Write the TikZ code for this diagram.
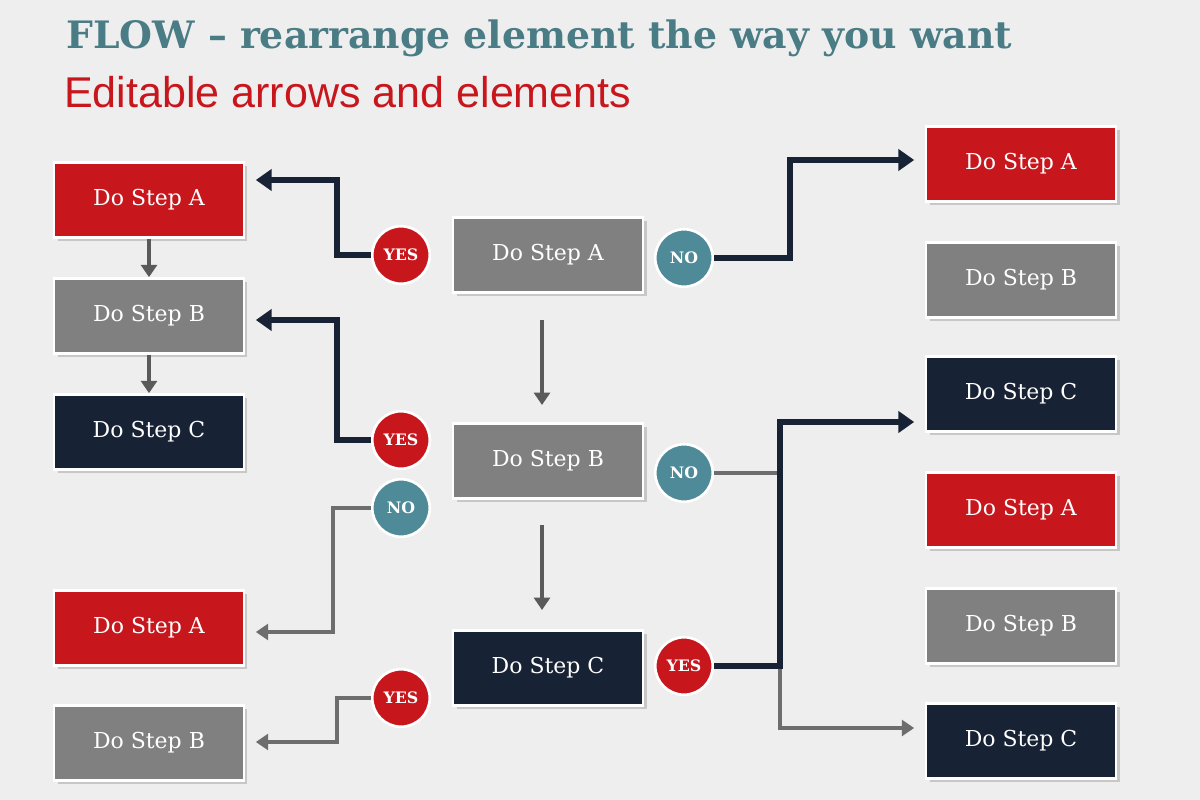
\documentclass[tikz,border=0pt]{standalone}
\usepackage{fontspec}
\setmainfont{DejaVu Serif}
\setsansfont{Liberation Sans}
\usetikzlibrary{positioning,arrows.meta,shadows}
\definecolor{stepred}{HTML}{C8161D}
\definecolor{stepgray}{HTML}{808080}
\definecolor{stepnavy}{HTML}{182235}
\definecolor{stepteal}{HTML}{4E8A97}
\definecolor{titleteal}{HTML}{4A7C85}
\definecolor{bgpaper}{HTML}{EEEEEE}
\tikzset{
	flow box/.style = {rectangle, draw=white, line width=1.5pt, minimum width=3.8cm, minimum height=1.5cm,
		text=white, font=\fontsize{12.5}{15}\selectfont, drop shadow={opacity=0.35,shadow xshift=2pt,shadow yshift=-2pt}},
	red box/.style = {flow box, fill=stepred},
	gray box/.style = {flow box, fill=stepgray},
	navy box/.style = {flow box, fill=stepnavy},
	answer/.style = {circle, draw=white, line width=1.5pt, minimum size=1.15cm, inner sep=0pt,
		text=white, font=\bfseries\fontsize{9}{10}\selectfont},
	yes/.style = {answer, fill=stepred},
	no/.style = {answer, fill=stepteal},
	strong/.style = {-{Triangle[length=9pt,width=12pt]}, line width=3.5pt, draw=stepnavy, shorten >=6pt},
	weak/.style = {-{Triangle[length=7pt,width=9pt]}, line width=2.2pt, draw=stepgray!85!black, shorten >=6pt},
	down/.style = {-{Triangle[length=7pt,width=9pt]}, line width=2pt, draw=stepgray!70!black}
}
\begin{document}
\begin{tikzpicture}[x=0.02cm, y=-0.02cm]
	% background
	\fill[bgpaper] (0,0) rectangle (1200,800);
	\useasboundingbox (0,0) rectangle (1200,800);
	% titles
	\node[anchor=west, text=titleteal, font=\bfseries\fontsize{21.5}{26}\selectfont] (title) at (60,38) {FLOW -- rearrange element the way you want};
	\node[anchor=west, text=stepred, font=\sffamily\fontsize{24.5}{30}\selectfont] (subtitle) at (58,92) {Editable arrows and elements};
	% left column
	\node[red box] (la) at (149,200) {Do Step A};
	\node[gray box] (lb) at (149,316) {Do Step B};
	\node[navy box] (lc) at (149,432) {Do Step C};
	\node[red box] (la2) at (149,628) {Do Step A};
	\node[gray box] (lb2) at (149,743) {Do Step B};
	% middle column
	\node[gray box] (ma) at (548,255) {Do Step A};
	\node[gray box] (mb) at (548,461) {Do Step B};
	\node[navy box] (mc) at (548,668) {Do Step C};
	% right column
	\node[red box] (ra) at (1021,164) {Do Step A};
	\node[gray box] (rb) at (1021,280) {Do Step B};
	\node[navy box] (rc) at (1021,394) {Do Step C};
	\node[red box] (ra2) at (1021,510) {Do Step A};
	\node[gray box] (rb2) at (1021,626) {Do Step B};
	\node[navy box] (rc2) at (1021,741) {Do Step C};
	% answers
	\node[yes] (y1) at (401,255) {YES};
	\node[no] (n1) at (684,258) {NO};
	\node[yes] (y2) at (401,440) {YES};
	\node[no] (n2) at (684,473) {NO};
	\node[no] (n3) at (401,508) {NO};
	\node[yes] (y3) at (684,666) {YES};
	\node[yes] (y4) at (401,698) {YES};
	% connectors
	\draw[down] (la) -- (lb);
	\draw[down] (lb) -- (lc);
	\draw[down] (542,320) -- (542,405);
	\draw[down] (542,525) -- (542,610);
	\draw[strong] (y1.west) -| (337,180) -- (la.east |- 0,180);
	\draw[strong] (y2.west) -| (337,320) -- (lb.east |- 0,320);
	\draw[strong] (n1.east) -| (790,160) -- (ra.west |- 0,160);
	\draw[weak] (n2.east) -| (780,728) -- (rc2.west |- 0,728);
	\draw[strong] (y3.east) -| (780,422) -- (rc.west |- 0,422);
	\draw[weak] (n3.west) -| (333,632) -- (la2.east |- 0,632);
	\draw[weak] (y4.west) -| (337,742) -- (lb2.east |- 0,742);
\end{tikzpicture}
\end{document}
